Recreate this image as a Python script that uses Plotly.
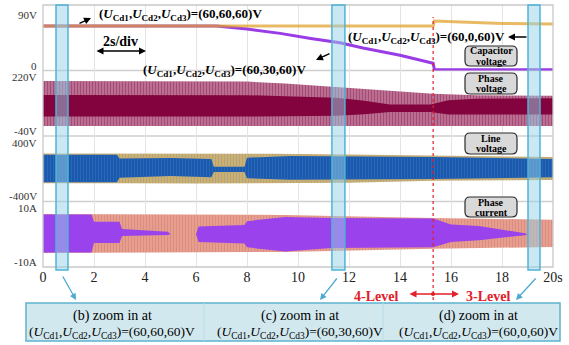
import plotly.graph_objects as go

# ---------------- data ----------------
# capacitor voltages (V)
t_ucd1 = [0, 6.8, 10, 15.3, 15.35, 16, 17, 18, 20]
u_cd1 = [61, 61, 61, 61, 68, 67, 65.5, 64.5, 64]
t_ucd2 = [0, 3, 6.8, 8, 9.3, 10.5, 11.65, 12.55, 14, 15.3, 15.35, 17, 20]
u_cd2 = [61, 61, 61, 57, 51, 44, 38, 31, 21, 10, 1, 1, 1]

# phase voltage envelope (V)
t_pv = [0, 6, 8, 9.5, 11.5, 13.5, 15.3, 17, 20]
pv_max = [178, 178, 176, 168, 155, 140, 128, 122, 120]
pv_min = [0, 0, 0, 0, 0, 0, 0, 0, 0]
t_pv_core = [0, 6, 8, 9.5, 11.5, 12.6, 13.6, 15.2, 15.9, 17, 20]
pv_core_hi = [123, 123, 122, 118, 112, 100, 85, 85, 102, 108, 110]
pv_core_lo = [37, 37, 37, 38, 40, 46, 55, 55, 45, 45, 45]

# line voltage envelope (V)
t_lv = [0, 3, 6, 9, 12, 15.3, 18, 20]
lv_max = [185, 185, 183, 182, 175, 165, 150, 142]
lv_min = [-178, -178, -180, -178, -172, -148, -140, -137]
t_lv_core = [0, 2.9, 3.0, 5.0, 6.6, 6.7, 7.9, 8.0, 9.7, 15.3, 20]
lv_core_hi = [170, 170, 125, 130, 120, 25, 25, 135, 155, 145, 120]
lv_core_lo = [-165, -165, -110, -90, -105, -40, -40, -115, -135, -125, -105]

# phase current envelope (A)
t_ia = [0, 9.5, 15.3, 20]
ia_max = [6.2, 5.9, 5.0, 4.4]
ia_min = [-5.7, -5.4, -4.4, -3.9]
t_ib = [0, 1.9, 2.0, 3.0, 3.1, 4.9, 5.0, 6.0, 6.1, 7.9, 8.0, 9.5, 11.3, 15.3, 16.0, 17.1, 18.9, 19.0, 20]
ib_max = [6.0, 6.0, 3.8, 3.8, 1.6, 0.8, 0, 0, 2.4, 2.8, 4.0, 5.3, 5.0, 4.8, 3.0, 2.5, 0.3, 0, 0]
ib_min = [-5.6, -5.6, -2.7, -2.7, -0.5, -0.2, 0, 0, -2.4, -2.8, -4.0, -5.3, -4.2, -4.0, -2.4, -1.8, -0.3, 0, 0]

# axis ticks
x_ticks = [0, 2, 4, 6, 8, 10, 12, 14, 16, 18, 20]
x_ticktext = ["0", "2", "4", "6", "8", "10", "12", "14", "16", "18", "20s"]

# zoom windows (s) and level change instant
zoom_windows = [(0.51, 0.98), (11.33, 11.84), (19.02, 19.49)]
t_switch = 15.3

FONT = "Liberation Serif"
L, R, T, B = 43, 16, 5, 78
W, H = 569, 345
PW, PH = W - L - R, H - T - B


def PX(px):
    return (px - L) / PW


def PY(py):
    return (T + PH - py) / PH


def band(t, hi, lo, yaxis, **kw):
    return go.Scatter(x=list(t) + list(t)[::-1], y=list(hi) + list(lo)[::-1],
                      fill="toself", mode="lines", line=dict(width=0),
                      yaxis=yaxis, xaxis="x", hoverinfo="skip", showlegend=False, **kw)


fig = go.Figure()

# phase voltage
fig.add_trace(band(t_pv, pv_max, pv_min, "y2", fillcolor="#A24A75",
                   fillpattern=dict(shape="|", size=3, solidity=0.6,
                                    fgcolor="#86103F", bgcolor="#C786A6")))
fig.add_trace(band(t_pv_core, pv_core_hi, pv_core_lo, "y2", fillcolor="#82033D"))

# line voltage
fig.add_trace(band(t_lv, lv_max, lv_min, "y3", fillcolor="#C7AC6A",
                   fillpattern=dict(shape="|", size=3, solidity=0.3,
                                    fgcolor="#8A94A0", bgcolor="#CDB06E")))
fig.add_trace(band(t_lv_core, lv_core_hi, lv_core_lo, "y3", fillcolor="#1C5DB0",
                   fillpattern=dict(shape="|", size=3, solidity=0.3,
                                    fgcolor="#3F78BE", bgcolor="#1A5AAE")))

# phase current
fig.add_trace(band(t_ia, ia_max, ia_min, "y4", fillcolor="#DE8E7C",
                   fillpattern=dict(shape="|", size=3, solidity=0.45,
                                    fgcolor="#CC7880", bgcolor="#E9A28C")))
fig.add_trace(band(t_ib, ib_max, ib_min, "y4", fillcolor="#9A42EC"))

# capacitor voltages
fig.add_trace(go.Scatter(x=t_ucd2, y=u_cd2, mode="lines", yaxis="y", xaxis="x",
                         line=dict(color="#9A3CE6", width=3), showlegend=False))
fig.add_trace(go.Scatter(x=t_ucd1, y=u_cd1, mode="lines", yaxis="y", xaxis="x",
                         line=dict(color="rgba(225,160,40,0.72)", width=3), showlegend=False))

shapes = []
# frame and panel borders
shapes.append(dict(type="rect", xref="paper", yref="paper", x0=0, x1=1, y0=0, y1=1,
                   line=dict(color="#C9C9C9", width=1.3), layer="above"))
for yy in (0.25, 0.5, 0.75):
    shapes.append(dict(type="line", xref="paper", yref="paper", x0=0, x1=1, y0=yy, y1=yy,
                       line=dict(color="#CFCFCF", width=1.3), layer="below"))
# red dotted level-change line
shapes.append(dict(type="line", xref="x", yref="paper", x0=t_switch, x1=t_switch,
                   y0=PY(300), y1=PY(17), line=dict(color="#E0202A", width=1.2, dash="dot"),
                   layer="above"))
# zoom windows
for a, b in zoom_windows:
    shapes.append(dict(type="rect", xref="x", yref="paper", x0=a, x1=b, y0=PY(270), y1=1,
                       fillcolor="rgba(150,210,232,0.5)",
                       line=dict(color="#4FB3D6", width=1.5), layer="above"))
# bottom caption box
shapes.append(dict(type="rect", xref="paper", yref="paper", x0=PX(26), x1=PX(560),
                   y0=PY(341), y1=PY(303), fillcolor="#D2E8EF",
                   line=dict(color="#5DB3CF", width=1.5)))
for xd in (204, 383):
    shapes.append(dict(type="line", xref="paper", yref="paper", x0=PX(xd), x1=PX(xd),
                       y0=PY(341), y1=PY(303), line=dict(color="#B7DCE8", width=1)))
# red dot on level arrow
shapes.append(dict(type="circle", xref="paper", yref="paper", x0=PX(431), x1=PX(435),
                   y0=PY(296), y1=PY(292), fillcolor="#E0202A", line=dict(width=0)))


def rounded(x0, y0, x1, y1, r=5):
    p = lambda x, y: f"{PX(x):.5f},{PY(y):.5f}"
    return ("M " + p(x0 + r, y0) + " L " + p(x1 - r, y0) + " Q " + p(x1, y0) + " " + p(x1, y0 + r) +
            " L " + p(x1, y1 - r) + " Q " + p(x1, y1) + " " + p(x1 - r, y1) +
            " L " + p(x0 + r, y1) + " Q " + p(x0, y1) + " " + p(x0, y1 - r) +
            " L " + p(x0, y0 + r) + " Q " + p(x0, y0) + " " + p(x0 + r, y0) + " Z")


legend_boxes = [("Capacitor", "voltage", 46, 66), ("Phase", "voltage", 73, 94),
                ("Line", "voltage", 133, 154), ("Phase", "current", 197, 217)]
for _, _, y0, y1 in legend_boxes:
    shapes.append(dict(type="path", xref="paper", yref="paper", path=rounded(465, y0, 517, y1),
                       fillcolor="#D9D9D9", line=dict(color="#2B2B2B", width=1.2), layer="above"))

ann = []


def text(px, py, s, size=14, xanchor="center", color="black", bold=False):
    if bold:
        s = "<b>" + s + "</b>"
    ann.append(dict(x=PX(px), y=PY(py), xref="paper", yref="paper", text=s, showarrow=False,
                    xanchor=xanchor, yanchor="middle", borderpad=0,
                    font=dict(family=FONT, size=size, color=color)))


def arrow(hx, hy, tx, ty, color="black", width=1.4, side="end", head=2, size=1):
    ann.append(dict(x=PX(hx), y=PY(hy), xref="paper", yref="paper", text="", showarrow=True,
                    ax=tx - hx, ay=ty - hy, arrowcolor=color, arrowwidth=width, arrowhead=head,
                    startarrowhead=head, arrowside=side, arrowsize=size, startarrowsize=size))


# y labels
for s, py in [("90V", 15), ("0", 66), ("220V", 77), ("-40V", 130.5), ("400V", 142.5),
              ("-400V", 196), ("10A", 207.5), ("-10A", 261.5)]:
    text(38, py, s, size=11, xanchor="right", color="#333333")

U = "(<i>U</i><sub>Cd1</sub>,<i>U</i><sub>Cd2</sub>,<i>U</i><sub>Cd3</sub>)"
text(98, 14, U + "=(60,60,60)V", size=13, xanchor="left", bold=True)
arrow(91, 18, 78, 24)
text(142, 70, U + "=(60,30,60)V", size=13, xanchor="left", bold=True)
arrow(316, 60, 331, 53)
text(347, 37, U + "=(60,0,60)V", size=13, xanchor="left", bold=True)
arrow(508, 37, 528, 37)

text(120, 42, "2s/div", size=14, bold=True)
arrow(146, 51, 95, 51, side="end+start")

text(399, 296, "4-Level", size=14, xanchor="right", color="#E0202A", bold=True)
text(465, 296, "3-Level", size=14, xanchor="left", color="#E0202A", bold=True)
arrow(459, 294, 408, 294, color="#E0202A", width=1.4, side="end+start")

for l1, l2, _y0, _y1 in legend_boxes:
    cy = (_y0 + _y1) / 2
    text(491, cy - 5, l1, size=10, bold=True)
    text(491, cy + 5, l2, size=10, bold=True)

captions = [(112, "(b) zoom in at", U + "=(60,60,60)V"),
            (300, "(c) zoom in at", U + "=(60,30,60)V"),
            (478, "(d) zoom in at", U + "=(60,0,60)V")]
for cx, l1, l2 in captions:
    text(cx, 316, l1, size=14)
    text(cx, 332, l2, size=13.5)

arrow(76, 300, 62, 275, color="#4DA9CF", width=1.3)
arrow(320, 300, 338, 277, color="#4DA9CF", width=1.3)
arrow(516, 300, 537, 277, color="#4DA9CF", width=1.3)

yax = dict(showticklabels=False, showgrid=False, zeroline=False, showline=False,
           ticks="", fixedrange=True, anchor="x")
fig.update_layout(
    width=W, height=H, margin=dict(l=L, r=R, t=T, b=B),
    paper_bgcolor="white", plot_bgcolor="white", showlegend=False,
    xaxis=dict(range=[0, 20], tickvals=x_ticks, ticktext=x_ticktext, showgrid=True,
               gridcolor="#E4E4E4", gridwidth=1, zeroline=False, showline=False,
               ticks="", anchor="y4",
               tickfont=dict(family=FONT, size=14, color="#222222")),
    yaxis=dict(domain=[0.75, 1], range=[0, 90], **yax),
    yaxis2=dict(domain=[0.5, 0.75], range=[-40, 220], **yax),
    yaxis3=dict(domain=[0.25, 0.5], range=[-400, 400], **yax),
    yaxis4=dict(domain=[0, 0.25], range=[-10, 10], **yax),
    shapes=shapes, annotations=ann,
)

fig.write_html("out.html")
